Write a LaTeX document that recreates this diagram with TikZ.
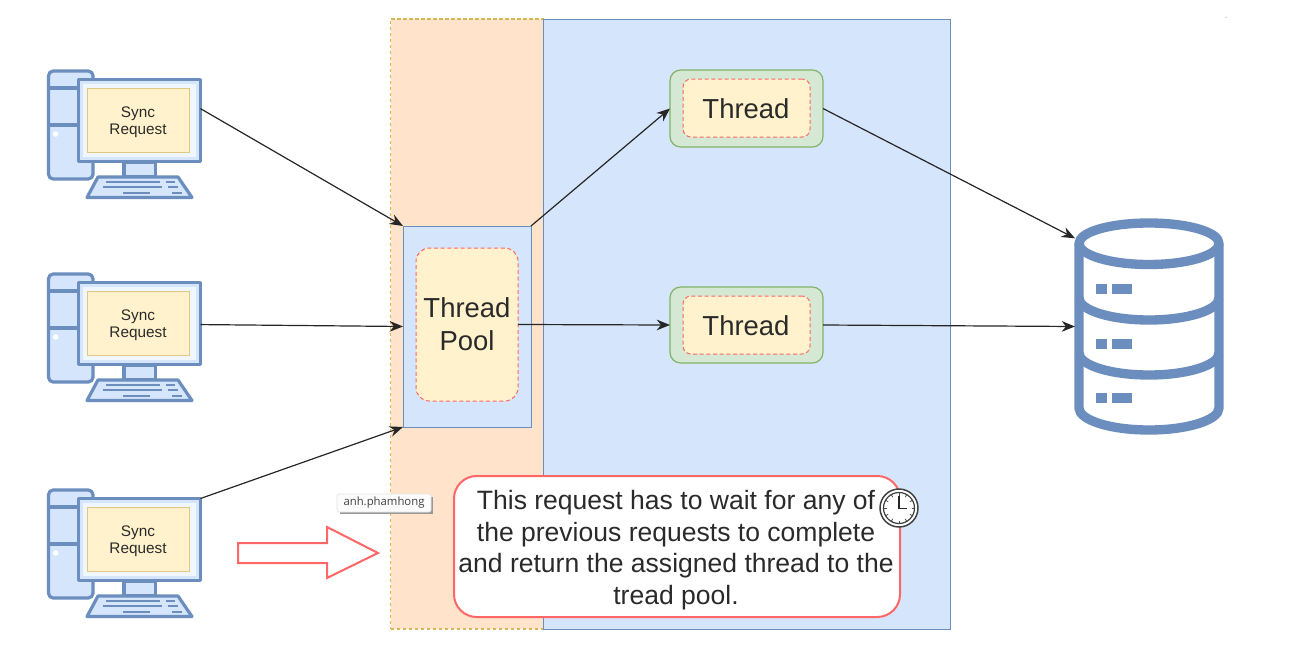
\documentclass[tikz,border=0pt]{standalone}
\usepackage{fontspec}
\setmainfont{Liberation Sans}
\newfontfamily\tipfont{Open Sans}
\usetikzlibrary{arrows.meta,calc}
\definecolor{lblue}{HTML}{D5E5FB}
\definecolor{bblue}{HTML}{6C8EBF}
\definecolor{lorange}{HTML}{FFE3CB}
\definecolor{yel}{HTML}{FFF2CC}
\definecolor{byel}{HTML}{D6B656}
\definecolor{lgreen}{HTML}{D5E8D4}
\definecolor{bgreen}{HTML}{82B366}
\definecolor{redl}{HTML}{FF6666}
\definecolor{txt}{HTML}{2A2A2A}
\tikzset{
  x=0.75pt,y=-0.75pt,
  box/.style 2 args={minimum width=#1*0.75pt,minimum height=#2*0.75pt,inner sep=0pt,outer sep=0pt,align=center,text=txt},
  iconline/.style={draw=bblue,line width=2.4pt,line join=round},
  keyline/.style={draw=bblue,line width=1.4pt},
  conn/.style={draw=black!85,line width=0.9pt,-{Stealth[length=10pt,width=8pt]}},
  dbline/.style={draw=bblue,line width=7pt,line join=round},
  dbkey/.style={fill=bblue},
  dashred/.style={draw=redl,line width=0.75pt,dash pattern=on 3pt off 2pt},
  bigtext/.style={font=\fontsize{20.6}{24.5}\selectfont},
  plain/.style={inner sep=0pt,outer sep=0pt,align=center,text=txt},
  computer/.pic={
    \draw[iconline,fill=lblue,rounded corners=3.5pt] (48.5,71) rectangle (93,179);
    \draw[iconline] (48.5,88) -- (78,88) (48.5,125) -- (78,125);
    \fill[white] (55.7,134) circle[radius=2.8];
    \draw[iconline,fill=lblue] (124,162) rectangle (155.5,176.5);
    \draw[iconline,fill=lblue] (98,177) -- (178,177) -- (192,197.5) -- (87,197.5) -- cycle;
    \draw[keyline] (106,181.7) -- (160,181.7) (166,181.7) -- (175,181.7)
      (103,187) -- (162,187) (168,187) -- (178,187)
      (123,193) -- (150,193) (172,193) -- (182,193);
    \node[box={122}{82},iconline,fill=lblue] (mon) at (139.5,120.5) {};
    \fill[white!65!lblue] (83,84) rectangle (196,157);
    \node[box={102}{64},draw=byel!75!white,line width=0.7pt,fill=yel] (scr) at (138,120) {};
    \node[plain,font=\fontsize{11.5}{12.8}\selectfont] (lab) at (138,122) {Sync\\Request};
  }
}
\begin{document}
\begin{tikzpicture}
\useasboundingbox (0,0) rectangle (1297,664);
\fill[white] (0,0) rectangle (1297,664);
\fill[gray!40] (1226,17.5) circle[radius=0.8];
% panels
\node[box={153}{610},draw=byel,line width=0.9pt,dash pattern=on 2.5pt off 2pt,fill=lorange] (orange) at (467,324) {};
\node[box={407}{610},draw=bblue,line width=0.75pt,fill=lblue] (blue) at (746.5,324) {};
\node[box={128}{201},draw=bblue,line width=0.75pt,fill=lblue] (pool) at (467,326.5) {};
\node[box={102}{153},dashred,fill=yel,rounded corners=10pt,bigtext] (poolin) at (467,324.5) {Thread\\Pool};
% threads
\node[box={153}{77},draw=bgreen,line width=0.9pt,fill=lgreen,rounded corners=8pt] (t1) at (746.5,108.5) {};
\node[box={127}{58},dashred,fill=yel,rounded corners=6pt] (t1in) at (746.5,108) {};
\node[plain,bigtext] (t1lab) at (746,109) {Thread};
\node[box={153}{76},draw=bgreen,line width=0.9pt,fill=lgreen,rounded corners=8pt] (t2) at (746.5,325) {};
\node[box={127}{58},dashred,fill=yel,rounded corners=6pt] (t2in) at (746.5,325) {};
\node[plain,bigtext] (t2lab) at (746,326) {Thread};
% computers
\pic (c1) at (0,0) {computer};
\pic (c2) at (0,203) {computer};
\pic (c3) at (0,419) {computer};
% database
\node[box={148}{217}] (db) at (1149,326.5) {};
\draw[dbline] (1079,243) -- (1079,408) .. controls (1079,420) and (1110,430) .. (1149,430) .. controls (1188,430) and (1219,420) .. (1219,408) -- (1219,243);
\draw[dbline] (1149,223) .. controls (1188,223) and (1219,232) .. (1219,243.5) .. controls (1219,255) and (1188,264.5) .. (1149,264.5) .. controls (1110,264.5) and (1079,255) .. (1079,243.5) .. controls (1079,232) and (1110,223) .. cycle;
\draw[dbline] (1079,298) .. controls (1079,310) and (1110,320) .. (1149,320) .. controls (1188,320) and (1219,310) .. (1219,298);
\draw[dbline] (1079,353) .. controls (1079,365) and (1110,375) .. (1149,375) .. controls (1188,375) and (1219,365) .. (1219,353);
\foreach \ky in {284,339,393}{
  \fill[dbkey] (1096,\ky) rectangle (1107,\ky+10);
  \fill[dbkey] (1112,\ky) rectangle (1132,\ky+10);
}
% connectors
\draw[conn] (c1mon.11) -- (pool.north west);
\draw[conn] (c2mon.-1) -- (pool.west);
\draw[conn] (c3mon.north east) -- (pool.south west);
\draw[conn] (pool.north east) -- (t1.west);
\draw[conn] (poolin.east) -- (t2.west);
\draw[conn] (t1.east) -- (db.130);
\draw[conn] (t2.east) -- (db.west);
% block arrow
\draw[draw=redl,line width=1.5pt,fill=white,line join=miter] (238,543) -- (327,543) -- (327,527) -- (378,553) -- (327,578) -- (327,563) -- (238,563) -- cycle;
% tooltip
\fill[black!40] (340,496.5) rectangle (433,514);
\node[box={94}{18},draw=black!10,line width=0.5pt,fill=black!1,rounded corners=1.5pt,font=\tipfont\fontsize{8.5}{10}\selectfont,text=black!75] (tip) at (384,503) {\raisebox{-1pt}{anh.phamhong}};
% callout
\node[box={446}{141},draw=redl,line width=1.5pt,fill=white,rounded corners=17pt] (note) at (677,546.5) {};
\node[plain,font=\fontsize{19.9}{23.8}\selectfont] (notetxt) at (676,550) {This request has to wait for any of\\the previous requests to complete\\and return the assigned thread to the\\tread pool.};
% clock
\node[circle,minimum size=28.5pt,inner sep=0pt,draw=black!75,line width=1.1pt,fill=white] (clk) at (899,508) {};
\draw[black!75,line width=0.9pt] (clk.center) circle[radius=15.5];
\draw[black!85,line width=1pt] (899,496) -- (899,508.5) -- (907,508.5);
\foreach \a in {0,30,...,330}{
  \draw[black!70,line width=0.6pt] ($(clk.center)+(\a:12.5)$) -- ($(clk.center)+(\a:15)$);
}
\end{tikzpicture}
\end{document}
